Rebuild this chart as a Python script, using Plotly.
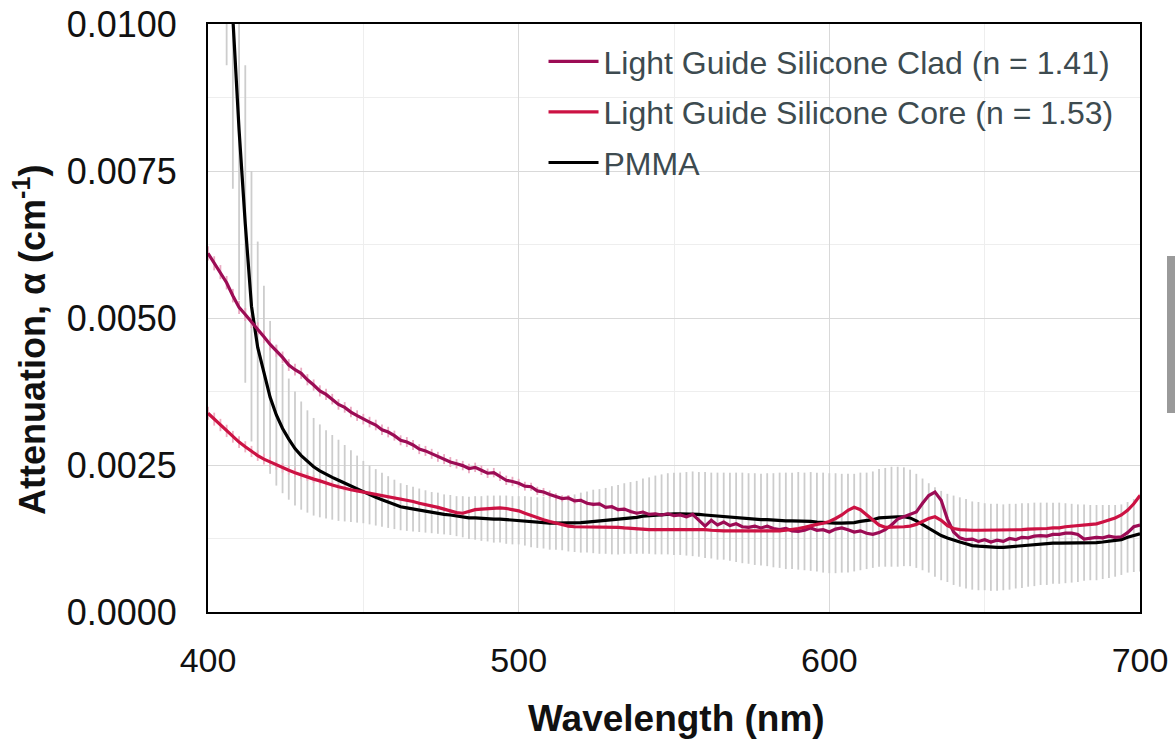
import plotly.graph_objects as go

# Wavelength grid (nm), 2 nm steps
wavelength = list(range(400, 701, 2))

# Attenuation values in units of 1e-4 cm^-1 (rows: 400-418, 420-438, ..., 680-698, 700)
clad = [
    61.0, 59.3, 57.8, 56.0, 53.8, 51.8, 50.6, 49.4, 48.2, 46.8,
    45.5, 44.4, 43.3, 42.0, 41.2, 40.6, 39.5, 38.6, 37.6, 37.0,
    36.2, 35.3, 34.8, 34.0, 33.4, 32.8, 32.3, 31.8, 31.0, 30.6,
    30.0, 29.2, 28.9, 28.4, 27.7, 27.4, 26.9, 26.4, 26.0, 25.5,
    25.2, 24.9, 24.4, 24.6, 24.1, 23.6, 23.7, 23.1, 22.4, 22.2,
    21.9, 21.4, 21.3, 20.6, 20.4, 20.0, 19.6, 19.3, 19.4, 18.9,
    19.0, 18.5, 18.3, 18.4, 17.8, 17.9, 17.4, 17.5, 17.1, 16.8,
    17.0, 16.6, 16.7, 16.5, 16.7, 16.4, 16.5, 16.2, 16.6, 15.6,
    14.6, 15.6, 14.8, 15.3, 14.7, 15.0, 14.5, 14.4, 14.6, 14.3,
    14.6, 14.2, 14.0, 14.2, 13.8, 13.7, 13.9, 14.3, 13.9, 14.0,
    13.6, 14.1, 14.3, 14.0, 13.6, 13.8, 13.4, 13.2, 13.5, 14.0,
    14.8, 15.8, 16.2, 16.5, 17.0, 18.5, 19.8, 20.4, 19.0, 15.8,
    13.6, 12.6, 12.3, 12.4, 12.0, 12.3, 11.9, 12.2, 12.0, 12.5,
    12.3, 12.7, 12.6, 12.9, 13.0, 12.9, 13.2, 13.2, 13.4, 13.4,
    13.2, 12.4, 12.5, 12.7, 12.6, 12.9, 12.7, 12.8, 13.5, 14.5,
    14.8,
]
clad_err = [
    1.2, 1.2, 1.2, 1.15, 1.15, 1.1, 1.1, 1.1, 1.05, 1.05,
    1.0, 1.0, 1.0, 1.0, 1.0, 0.95, 0.95, 0.95, 0.95, 0.95,
    0.9, 0.9, 0.9, 0.9, 0.9, 0.9, 0.9, 0.9, 0.9, 0.9,
    0.85, 0.85, 0.85, 0.85, 0.85, 0.85, 0.85, 0.85, 0.85, 0.85,
    0.8, 0.8, 0.8, 0.8, 0.8, 0.8, 0.8, 0.8, 0.8, 0.8,
    0.75, 0.75, 0.7, 0.7, 0.7, 0.65, 0.6, 0.55, 0.5, 0.5,
    0.4, 0.4, 0.4, 0.4, 0.4, 0.4, 0.4, 0.4, 0.4, 0.4,
    0.3, 0.3, 0.3, 0.3, 0.3, 0.3, 0.3, 0.3, 0.3, 0.3,
    0.3, 0.3, 0.3, 0.3, 0.3, 0.3, 0.3, 0.3, 0.3, 0.3,
    0.3, 0.3, 0.3, 0.3, 0.3, 0.3, 0.3, 0.3, 0.3, 0.3,
    0.3, 0.3, 0.3, 0.3, 0.3, 0.3, 0.3, 0.3, 0.3, 0.3,
    0.3, 0.3, 0.3, 0.3, 0.3, 0.3, 0.3, 0.3, 0.3, 0.3,
    0.3, 0.3, 0.3, 0.3, 0.3, 0.3, 0.3, 0.3, 0.3, 0.3,
    0.3, 0.3, 0.3, 0.3, 0.3, 0.3, 0.3, 0.3, 0.3, 0.3,
    0.3, 0.3, 0.3, 0.3, 0.3, 0.3, 0.3, 0.3, 0.3, 0.3,
    0.3,
]
core = [
    33.8, 32.8, 31.8, 30.8, 29.8, 28.9, 28.1, 27.3, 26.6, 26.0,
    25.5, 25.0, 24.5, 24.1, 23.7, 23.3, 23.0, 22.6, 22.3, 21.9,
    21.6, 21.3, 21.0, 20.8, 20.6, 20.4, 20.2, 20.0, 19.8, 19.6,
    19.5, 19.3, 19.0, 18.8, 18.5, 18.3, 18.0, 17.8, 17.5, 17.2,
    16.9, 16.8, 17.1, 17.4, 17.5, 17.6, 17.7, 17.7, 17.6, 17.4,
    17.2, 16.8, 16.4, 16.0, 15.7, 15.4, 15.1, 14.8, 14.6, 14.5,
    14.5, 14.5, 14.5, 14.5, 14.5, 14.4, 14.4, 14.3, 14.2, 14.1,
    14.1, 14.0, 14.0, 14.0, 14.1, 14.1, 14.1, 14.0, 14.0, 14.0,
    14.0, 13.9, 13.8, 13.8, 13.8, 13.8, 13.8, 13.7, 13.7, 13.7,
    13.8, 13.8, 13.8, 13.9, 14.0, 14.2, 14.4, 14.7, 14.9, 15.1,
    15.4, 15.9, 16.5, 17.3, 17.8, 17.4, 16.5, 15.6, 14.8, 14.4,
    14.4, 14.5, 14.5, 14.6, 14.9, 15.4, 15.9, 16.2, 15.6, 14.7,
    14.2, 14.0, 13.9, 13.9, 13.9, 13.9, 13.9, 13.9, 14.0, 14.0,
    14.0, 14.0, 14.1, 14.1, 14.2, 14.2, 14.3, 14.3, 14.5, 14.6,
    14.7, 14.8, 14.9, 15.0, 15.3, 15.6, 16.0, 16.5, 17.3, 18.4,
    19.8,
]
core_err = [
    1.1, 1.1, 1.05, 1.05, 1.0, 1.0, 0.95, 0.95, 0.9, 0.9,
    0.85, 0.8, 0.8, 0.75, 0.75, 0.7, 0.7, 0.65, 0.6, 0.6,
    0.55, 0.5, 0.5, 0.45, 0.4, 0.35, 0.3, 0.3, 0.3, 0.3,
    0.3, 0.3, 0.3, 0.3, 0.3, 0.3, 0.3, 0.3, 0.3, 0.3,
    0.3, 0.3, 0.3, 0.3, 0.3, 0.3, 0.3, 0.3, 0.3, 0.3,
    0.3, 0.3, 0.3, 0.3, 0.3, 0.3, 0.3, 0.3, 0.3, 0.3,
    0.3, 0.3, 0.3, 0.3, 0.3, 0.3, 0.3, 0.3, 0.3, 0.3,
    0.3, 0.3, 0.3, 0.3, 0.3, 0.3, 0.3, 0.3, 0.3, 0.3,
    0.3, 0.3, 0.3, 0.3, 0.3, 0.3, 0.3, 0.3, 0.3, 0.3,
    0.3, 0.3, 0.3, 0.3, 0.3, 0.3, 0.3, 0.3, 0.3, 0.3,
    0.3, 0.3, 0.3, 0.3, 0.3, 0.3, 0.3, 0.3, 0.3, 0.3,
    0.3, 0.3, 0.3, 0.3, 0.3, 0.3, 0.3, 0.3, 0.3, 0.3,
    0.3, 0.3, 0.3, 0.3, 0.3, 0.3, 0.3, 0.3, 0.3, 0.3,
    0.3, 0.3, 0.3, 0.3, 0.3, 0.3, 0.3, 0.3, 0.3, 0.3,
    0.3, 0.3, 0.3, 0.3, 0.3, 0.3, 0.3, 0.3, 0.3, 0.3,
    0.3,
]
pmma = [
    210, 175, 145, 120, 100, 82, 66, 52, 45, 40.5,
    36.5, 33.5, 31.2, 29.4, 27.8, 26.6, 25.6, 24.7, 24.0, 23.4,
    22.9, 22.4, 21.9, 21.4, 20.9, 20.4, 19.9, 19.5, 19.1, 18.7,
    18.3, 17.9, 17.7, 17.5, 17.3, 17.1, 16.9, 16.8, 16.6, 16.5,
    16.3, 16.2, 16.0, 16.0, 15.9, 15.9, 15.8, 15.8, 15.7, 15.6,
    15.6, 15.5, 15.3, 15.2, 15.2, 15.1, 15.1, 15.1, 15.1, 15.1,
    15.2, 15.3, 15.4, 15.4, 15.5, 15.6, 15.7, 15.9, 16.0, 16.1,
    16.3, 16.4, 16.5, 16.6, 16.7, 16.7, 16.7, 16.7, 16.7, 16.6,
    16.5, 16.4, 16.3, 16.3, 16.2, 16.1, 16.0, 15.9, 15.8, 15.7,
    15.7, 15.6, 15.6, 15.5, 15.5, 15.5, 15.4, 15.4, 15.3, 15.2,
    15.1, 15.1, 15.1, 15.1, 15.2, 15.4, 15.5, 15.7, 16.0, 16.1,
    16.2, 16.2, 16.2, 16.0, 15.5, 14.9, 14.3, 13.6, 13.0, 12.6,
    12.2, 11.9, 11.6, 11.3, 11.2, 11.1, 11.0, 11.0, 11.0, 11.1,
    11.2, 11.3, 11.4, 11.5, 11.6, 11.6, 11.7, 11.7, 11.7, 11.7,
    11.7, 11.8, 11.8, 11.8, 11.9, 12.0, 12.1, 12.3, 12.7, 13.0,
    13.3,
]
pmma_err = [
    25, 25, 26, 27, 28, 29, 27, 23, 18, 15,
    13, 12, 11, 10.3, 9.7, 9.2, 8.7, 8.3, 7.9, 7.5,
    7.2, 6.9, 6.5, 6.1, 5.7, 5.3, 5.0, 4.8, 4.6, 4.4,
    4.2, 4.0, 3.9, 3.8, 3.7, 3.6, 3.5, 3.5, 3.4, 3.4,
    3.4, 3.5, 3.6, 3.7, 3.8, 3.9, 4.0, 4.0, 4.1, 4.1,
    4.1, 4.2, 4.3, 4.3, 4.4, 4.5, 4.5, 4.6, 4.8, 4.9,
    5.1, 5.2, 5.4, 5.5, 5.6, 5.8, 5.9, 6.0, 6.1, 6.2,
    6.4, 6.5, 6.7, 6.8, 6.9, 7.0, 7.0, 7.1, 7.2, 7.2,
    7.3, 7.3, 7.4, 7.4, 7.5, 7.6, 7.7, 7.7, 7.8, 7.8,
    7.9, 8.0, 8.1, 8.2, 8.2, 8.3, 8.3, 8.4, 8.4, 8.5,
    8.5, 8.5, 8.4, 8.4, 8.3, 8.3, 8.2, 8.2, 8.3, 8.4,
    8.5, 8.5, 8.4, 8.2, 8.0, 7.8, 7.6, 7.6, 7.6, 7.5,
    7.6, 7.6, 7.6, 7.5, 7.5, 7.4, 7.4, 7.4, 7.3, 7.3,
    7.2, 7.2, 7.1, 7.1, 7.0, 7.0, 6.9, 6.9, 6.8, 6.7,
    6.6, 6.5, 6.4, 6.4, 6.3, 6.2, 6.1, 6.0, 6.0, 6.2,
    6.4,
]

names = ["Light Guide Silicone Clad (n = 1.41)",
         "Light Guide Silicone Core (n = 1.53)",
         "PMMA"]
line_colors = ["#9c0c55", "#cc1243", "#000000"]
bar_colors = ["#e9a9c1", "#eeb0c2", "#cdcdcd"]

UNIT = 1e-4
series = [clad, core, pmma]
errors = [clad_err, core_err, pmma_err]
for s, e in zip(series, errors):
    assert len(s) == len(wavelength) and len(e) == len(wavelength)

fig = go.Figure()

# Error bars first (drawn beneath all lines)
for idx in [2, 0, 1]:
    fig.add_trace(go.Scatter(
        x=wavelength, y=[v * UNIT for v in series[idx]],
        mode="markers", marker=dict(size=1, color="rgba(0,0,0,0)"),
        error_y=dict(type="data", array=[v * UNIT for v in errors[idx]],
                     visible=True, color=bar_colors[idx], thickness=1.8, width=0),
        showlegend=False, hoverinfo="skip"))

# Lines
for idx in [2, 0, 1]:
    fig.add_trace(go.Scatter(
        x=wavelength, y=[v * UNIT for v in series[idx]],
        mode="lines", name=names[idx],
        line=dict(color=line_colors[idx], width=3.2),
        legendgroup=f"g{idx}", legendrank=idx + 1))

font_family = "Arial, Liberation Sans, sans-serif"

fig.update_layout(
    width=1175, height=744,
    margin=dict(l=208, r=35, t=24, b=132),
    paper_bgcolor="white", plot_bgcolor="white",
    font=dict(family=font_family, color="#111111", size=27),
    showlegend=True,
    legend=dict(x=0.36, y=0.983, xanchor="left", yanchor="top",
                bgcolor="rgba(0,0,0,0)", borderwidth=0, itemwidth=50,
                font=dict(family=font_family, size=32, color="#3d4b50"),
                traceorder="grouped", tracegroupgap=6),
    xaxis=dict(range=[400, 700], dtick=100, tick0=0, automargin=False,
               showgrid=True, gridcolor="#d9d9d9", gridwidth=1,
               minor=dict(dtick=50, showgrid=True, gridcolor="#eeeeee", gridwidth=1),
               showline=True, mirror=True, linecolor="#000000", linewidth=2,
               zeroline=False, ticks="", ticklabelstandoff=17,
               tickfont=dict(size=34, color="#111111")),
    yaxis=dict(range=[0, 0.01], dtick=0.0025, tick0=0, tickformat=".4f", automargin=False,
               showgrid=True, gridcolor="#d9d9d9", gridwidth=1,
               minor=dict(dtick=0.00125, showgrid=True, gridcolor="#eeeeee", gridwidth=1),
               showline=True, mirror=True, linecolor="#000000", linewidth=2,
               zeroline=False, ticks="", ticklabelstandoff=22,
               tickfont=dict(size=36, color="#111111")),
    annotations=[
        dict(text="<b>Wavelength (nm)</b>", xref="paper", yref="paper",
             x=(676 - 208) / 932, y=(612 - 718) / 588, xanchor="center", yanchor="middle",
             showarrow=False, font=dict(size=37, color="#111111")),
        dict(text="<b>Attenuation, α (cm<sup>-1</sup>)</b>", xref="paper", yref="paper",
             x=(30 - 208) / 932, y=(612 - 340) / 588, xanchor="center", yanchor="middle",
             textangle=-90, showarrow=False, font=dict(size=36, color="#111111")),
    ],
    shapes=[dict(type="rect", xref="paper", yref="paper",
                 x0=(1167 - 208) / 932, x1=(1176 - 208) / 932,
                 y0=(612 - 413) / 588, y1=(612 - 256) / 588,
                 fillcolor="#9a9a9a", line=dict(width=0), layer="above")],
)

fig.write_html("out.html")
